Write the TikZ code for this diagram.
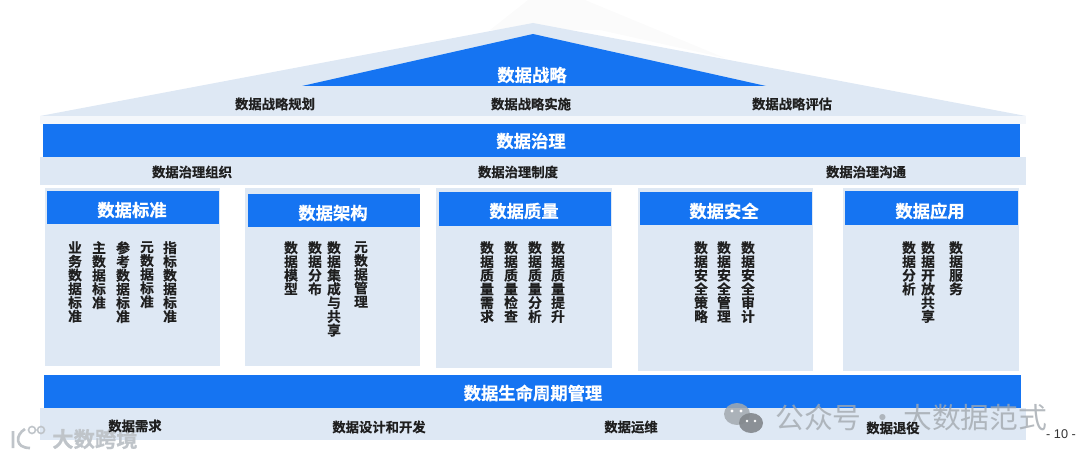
\documentclass[tikz,border=0pt]{standalone}
\usepackage{fontspec}
\setmainfont{Liberation Sans}
\newfontfamily\cjkb[FakeBold=0.6]{Noto Sans CJK SC Bold}
\newfontfamily\cjkr{Noto Sans CJK SC}
\definecolor{lightfill}{HTML}{DEE8F4}
\definecolor{bluefill}{HTML}{1574F2}
\definecolor{markgrey}{HTML}{A3A9AF}
\definecolor{logogrey}{HTML}{BFC4C9}
\tikzset{
 lightpanel/.style={fill=lightfill,draw=none},
 titletext/.style={text=white,inner sep=0pt,font=\cjkb\fontsize{13pt}{15pt}\selectfont},
 bodytext/.style={text=black!88,inner sep=0pt,font=\cjkb\fontsize{10pt}{12pt}\selectfont},
 vtext/.style={text=black!88,inner sep=0pt,anchor=north,align=center,font=\cjkb\fontsize{10.3pt}{10.3pt}\selectfont},
 wmark/.style={text=markgrey,opacity=.8,inner sep=0pt,font=\cjkr\fontsize{21.6pt}{24pt}\selectfont},
}
\begin{document}
\begin{tikzpicture}[x=0.75pt,y=-0.75pt]
\useasboundingbox (0,0) rectangle (1080,459);
% faint backdrop behind the roof
\fill[black!1.5] (490,30) -- (528,0) -- (585,0) -- (725,58) -- (600,30) -- cycle;
% roof
\fill[lightfill!35] (40,116) rectangle (1026,124);
\fill[lightfill] (40,116) -- (533,23) -- (1026,116) -- cycle;
\fill[bluefill] (302,86) -- (533,34) -- (766,86) -- cycle;
% panels
\fill[lightpanel] (40,157) rectangle (1026,185);
\foreach \a/\b/\c in {45/220/366,245/420/366,436/612/368,638/813/371,843/1019/371}
  \fill[lightpanel] (\a,188) rectangle (\b,\c);
\fill[lightpanel] (40,408) rectangle (1026,440);
% bars
\fill[bluefill] (43,124) rectangle (1020,157);
\fill[bluefill] (44,375) rectangle (1021,408);
\fill[bluefill] (47,191) rectangle (219,224);
\fill[bluefill] (248,194) rectangle (420,227);
\fill[bluefill] (439,192) rectangle (611,226);
\fill[bluefill] (640,192) rectangle (812,225);
\fill[bluefill] (845,191) rectangle (1018,225);
% watermarks
\fill[markgrey,opacity=.85] (737,414) ellipse (13 and 11);
\fill[markgrey!80!black,opacity=.9] (751,423) ellipse (12 and 10);
\fill[white] (732,411) circle (1.6) (741,411) circle (1.6) (747,421) circle (1.4) (755,421) circle (1.4);
\node[wmark,anchor=west] (wm) at (775,418) {公众号 · 大数据范式};
\node[text=logogrey,font=\cjkb\fontsize{16pt}{18pt}\selectfont,inner sep=0pt,anchor=west] (wm2) at (52,439) {大数跨境};
\draw[logogrey,line width=2pt] (13,431) -- (13,448) (25,429) .. controls (15,435) and (15,448) .. (30,448);
\draw[logogrey,line width=1.2pt] (32,430) circle (3.5) (41,430) circle (3.5);
% titles
\node[titletext] (tStrategy) at (532,75) {数据战略};
\node[titletext] (tGov) at (531,141) {数据治理};
\node[titletext] (tStd) at (132,210) {数据标准};
\node[titletext] (tArch) at (333,213) {数据架构};
\node[titletext] (tQual) at (524,211) {数据质量};
\node[titletext] (tSec) at (724,211) {数据安全};
\node[titletext] (tApp) at (930,211) {数据应用};
\node[titletext] (tLife) at (533,393) {数据生命周期管理};
% rows
\node[bodytext] (s1) at (275,104) {数据战略规划};
\node[bodytext] (s2) at (531,104) {数据战略实施};
\node[bodytext] (s3) at (792,104) {数据战略评估};
\node[bodytext] (g1) at (192,172) {数据治理组织};
\node[bodytext] (g2) at (518,172) {数据治理制度};
\node[bodytext] (g3) at (866,172) {数据治理沟通};
\node[bodytext] (l1) at (135,426) {数据需求};
\node[bodytext] (l2) at (379,427) {数据设计和开发};
\node[bodytext] (l3) at (631,427) {数据运维};
\node[bodytext] (l4) at (893,428) {数据退役};
% vertical lists
\node[vtext] (a1) at (75,241) {业\\务\\数\\据\\标\\准};
\node[vtext] (a2) at (99,241) {主\\数\\据\\标\\准};
\node[vtext] (a3) at (123,241) {参\\考\\数\\据\\标\\准};
\node[vtext] (a4) at (147,241) {元\\数\\据\\标\\准};
\node[vtext] (a5) at (170,241) {指\\标\\数\\据\\标\\准};
\node[vtext] (b1) at (291,241) {数\\据\\模\\型};
\node[vtext] (b2) at (315,241) {数\\据\\分\\布};
\node[vtext] (b3) at (334,241) {数\\据\\集\\成\\与\\共\\享};
\node[vtext] (b4) at (361,241) {元\\数\\据\\管\\理};
\node[vtext] (c1) at (487,241) {数\\据\\质\\量\\需\\求};
\node[vtext] (c2) at (511,241) {数\\据\\质\\量\\检\\查};
\node[vtext] (c3) at (535,241) {数\\据\\质\\量\\分\\析};
\node[vtext] (c4) at (558,241) {数\\据\\质\\量\\提\\升};
\node[vtext] (d1) at (701,241) {数\\据\\安\\全\\策\\略};
\node[vtext] (d2) at (724,241) {数\\据\\安\\全\\管\\理};
\node[vtext] (d3) at (748,241) {数\\据\\安\\全\\审\\计};
\node[vtext] (e1) at (909,241) {数\\据\\分\\析};
\node[vtext] (e2) at (928,241) {数\\据\\开\\放\\共\\享};
\node[vtext] (e3) at (956,241) {数\\据\\服\\务};
\node[inner sep=0pt,text=black!80,font=\fontsize{9.5pt}{11pt}\selectfont] (pg) at (1061,434) {- 10 -};
\end{tikzpicture}
\end{document}
